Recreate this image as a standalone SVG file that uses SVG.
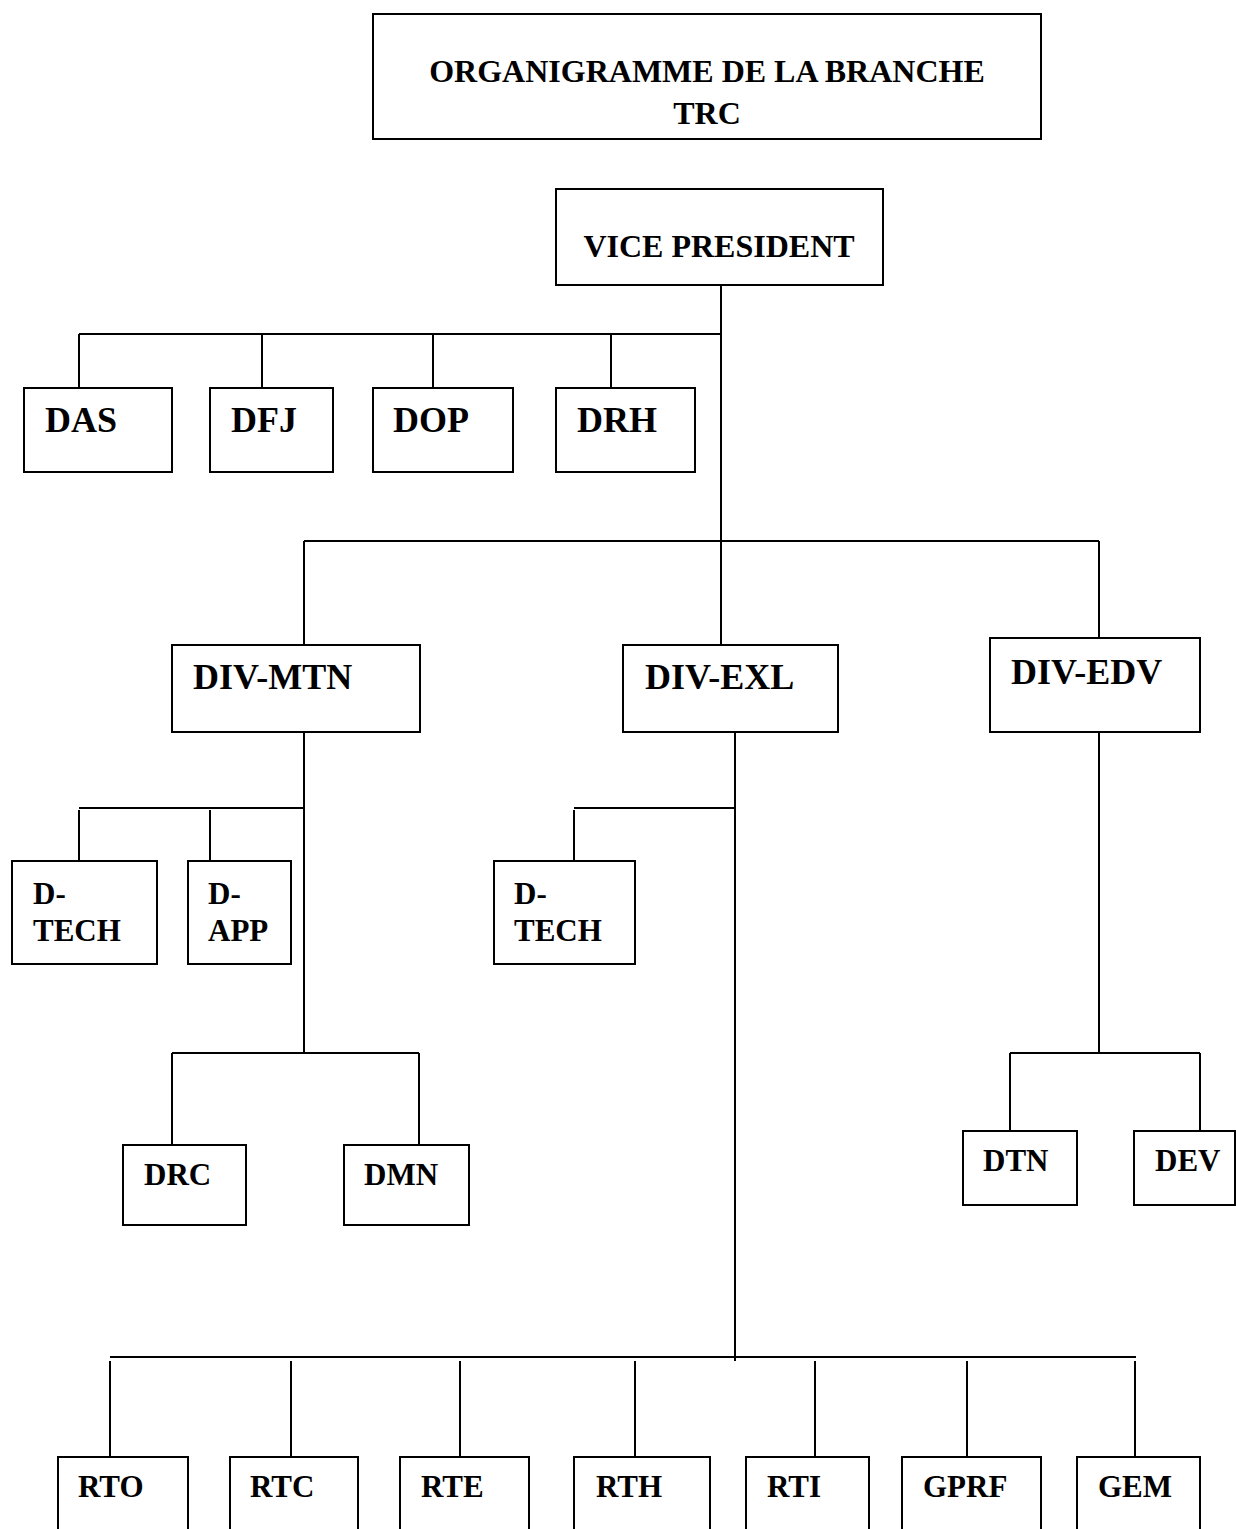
<svg xmlns="http://www.w3.org/2000/svg" width="1236" height="1529" viewBox="0 0 1236 1529">
<style>
.box{fill:#fff;stroke:#000;stroke-width:2}
text{font-family:"Liberation Serif","Times New Roman",serif;font-weight:bold;fill:#000}
.t{font-size:32px}
.vp{font-size:32px}
.l{font-size:36px}
.s{font-size:31px}
#connectors line{stroke:#000;stroke-width:2}
</style>
<rect width="1236" height="1529" fill="#fff"/>
<g id="connectors">
<line x1="721" y1="286" x2="721" y2="645"/>
<line x1="79" y1="334" x2="722" y2="334"/>
<line x1="79" y1="334" x2="79" y2="388"/>
<line x1="262" y1="334" x2="262" y2="388"/>
<line x1="433" y1="334" x2="433" y2="388"/>
<line x1="611" y1="334" x2="611" y2="388"/>
<line x1="304" y1="541" x2="1099" y2="541"/>
<line x1="304" y1="541" x2="304" y2="645"/>
<line x1="1099" y1="541" x2="1099" y2="638"/>
<line x1="304" y1="732" x2="304" y2="1053"/>
<line x1="79" y1="808" x2="305" y2="808"/>
<line x1="79" y1="810" x2="79" y2="861"/>
<line x1="210" y1="810" x2="210" y2="861"/>
<line x1="172" y1="1053" x2="419" y2="1053"/>
<line x1="172" y1="1053" x2="172" y2="1145"/>
<line x1="419" y1="1053" x2="419" y2="1145"/>
<line x1="735" y1="732" x2="735" y2="1361"/>
<line x1="574" y1="808" x2="735" y2="808"/>
<line x1="574" y1="810" x2="574" y2="861"/>
<line x1="1099" y1="732" x2="1099" y2="1053"/>
<line x1="1010" y1="1053" x2="1200" y2="1053"/>
<line x1="1010" y1="1053" x2="1010" y2="1131"/>
<line x1="1200" y1="1053" x2="1200" y2="1134"/>
<line x1="110" y1="1357" x2="1136" y2="1357"/>
<line x1="110" y1="1361" x2="110" y2="1457"/>
<line x1="291" y1="1361" x2="291" y2="1457"/>
<line x1="460" y1="1361" x2="460" y2="1457"/>
<line x1="635" y1="1361" x2="635" y2="1457"/>
<line x1="815" y1="1361" x2="815" y2="1457"/>
<line x1="967" y1="1361" x2="967" y2="1457"/>
<line x1="1135" y1="1361" x2="1135" y2="1457"/>
</g>
<g id="title"><rect class="box" x="373" y="14" width="668" height="125"/><text class="t" x="707" y="82" text-anchor="middle">ORGANIGRAMME DE LA BRANCHE</text><text class="t" x="707" y="124" text-anchor="middle">TRC</text></g>
<g id="vp"><rect class="box" x="556" y="189" width="327" height="96"/><text class="vp" x="719" y="257" text-anchor="middle">VICE PRESIDENT</text></g>
<g id="das"><rect class="box" x="24" y="388" width="148" height="84"/><text class="l" x="45" y="432">DAS</text></g>
<g id="dfj"><rect class="box" x="210" y="388" width="123" height="84"/><text class="l" x="231" y="432">DFJ</text></g>
<g id="dop"><rect class="box" x="373" y="388" width="140" height="84"/><text class="l" x="393" y="432">DOP</text></g>
<g id="drh"><rect class="box" x="556" y="388" width="139" height="84"/><text class="l" x="577" y="432">DRH</text></g>
<g id="div-mtn"><rect class="box" x="172" y="645" width="248" height="87"/><text class="l" x="193" y="689">DIV-MTN</text></g>
<g id="div-exl"><rect class="box" x="623" y="645" width="215" height="87"/><text class="l" x="645" y="689">DIV-EXL</text></g>
<g id="div-edv"><rect class="box" x="990" y="638" width="210" height="94"/><text class="l" x="1011" y="684">DIV-EDV</text></g>
<g id="d-tech-mtn"><rect class="box" x="12" y="861" width="145" height="103"/><text class="s" x="33" y="904">D-</text><text class="s" x="33" y="941">TECH</text></g>
<g id="d-app"><rect class="box" x="188" y="861" width="103" height="103"/><text class="s" x="208" y="904">D-</text><text class="s" x="208" y="941">APP</text></g>
<g id="d-tech-exl"><rect class="box" x="494" y="861" width="141" height="103"/><text class="s" x="514" y="904">D-</text><text class="s" x="514" y="941">TECH</text></g>
<g id="drc"><rect class="box" x="123" y="1145" width="123" height="80"/><text class="s" x="144" y="1185">DRC</text></g>
<g id="dmn"><rect class="box" x="344" y="1145" width="125" height="80"/><text class="s" x="364" y="1185">DMN</text></g>
<g id="dtn"><rect class="box" x="963" y="1131" width="114" height="74"/><text class="s" x="983" y="1171">DTN</text></g>
<g id="dev"><rect class="box" x="1134" y="1131" width="101" height="74"/><text class="s" x="1155" y="1171">DEV</text></g>
<g id="rto"><rect class="box" x="58" y="1457" width="130" height="100"/><text class="s" x="78" y="1497">RTO</text></g>
<g id="rtc"><rect class="box" x="230" y="1457" width="128" height="100"/><text class="s" x="250" y="1497">RTC</text></g>
<g id="rte"><rect class="box" x="400" y="1457" width="129" height="100"/><text class="s" x="421" y="1497">RTE</text></g>
<g id="rth"><rect class="box" x="574" y="1457" width="136" height="100"/><text class="s" x="596" y="1497">RTH</text></g>
<g id="rti"><rect class="box" x="746" y="1457" width="123" height="100"/><text class="s" x="767" y="1497">RTI</text></g>
<g id="gprf"><rect class="box" x="902" y="1457" width="139" height="100"/><text class="s" x="923" y="1497">GPRF</text></g>
<g id="gem"><rect class="box" x="1077" y="1457" width="123" height="100"/><text class="s" x="1098" y="1497">GEM</text></g>
</svg>
